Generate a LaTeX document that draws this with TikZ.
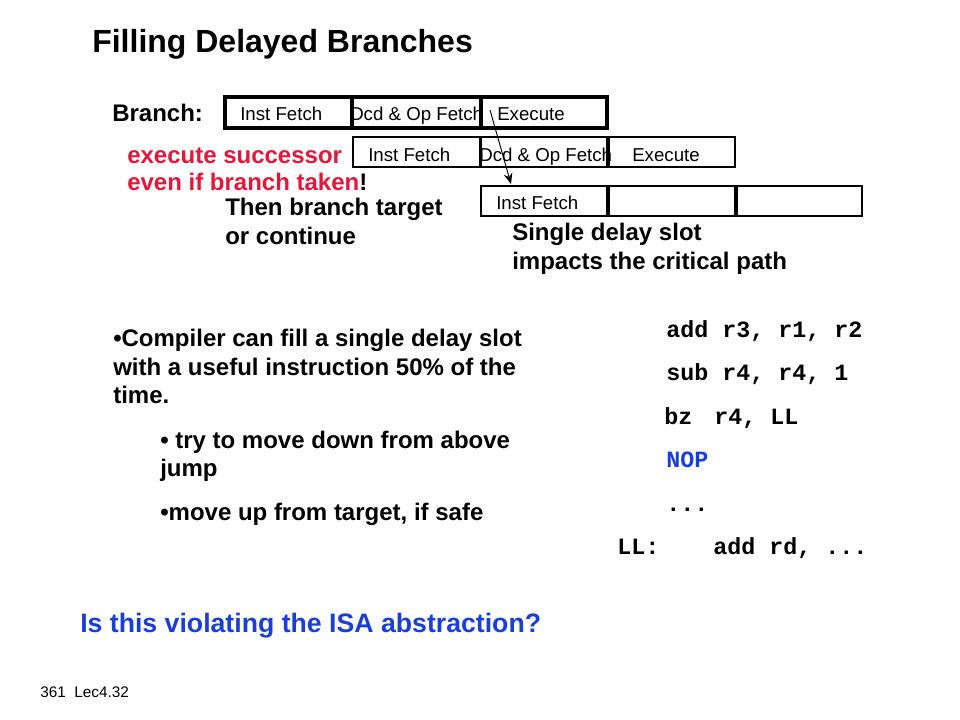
\documentclass[tikz,border=0pt]{standalone}
\usepackage{fontspec}
\usetikzlibrary{arrows.meta}
\setmainfont{Liberation Sans}
\setmonofont{Liberation Mono}
\definecolor{slred}{RGB}{228,22,58}
\definecolor{slblue}{RGB}{26,63,217}
\begin{document}
\begin{tikzpicture}[x=0.75pt,y=-0.75pt,
  txt/.style={anchor=base west,inner sep=0pt,font=\fontsize{18}{20}\selectfont\bfseries},
  boxtxt/.style={anchor=base west,inner sep=0pt,font=\fontsize{14}{16}\selectfont},
  code/.style={anchor=base west,inner sep=0pt,font=\fontsize{17.5}{20}\selectfont\ttfamily\bfseries},
  thickbox/.style={draw,line width=2.4pt},
  thinbox/.style={draw,line width=0.8pt}]
\useasboundingbox (0,0) rectangle (960,720);
% title
\node[txt,font=\fontsize{24}{28}\selectfont\bfseries] (title) at (92,53) {Filling Delayed Branches};
% branch row
\node[txt] (branch) at (112,122) {Branch:};
\node[boxtxt] (t11) at (240,121) {Inst Fetch};
\node[boxtxt] (t12) at (350,121) {Dcd \& Op Fetch};
\node[boxtxt] (t13) at (497,121) {Execute};
\draw[thickbox] (225,97) rectangle (352,128);
\draw[thickbox] (352,97) rectangle (481,128);
\draw[thickbox] (481,97) rectangle (607,128);
% second row
\node[boxtxt] (t21) at (368,162) {Inst Fetch};
\node[boxtxt] (t22) at (479,162) {Dcd \& Op Fetch};
\node[boxtxt] (t23) at (632,162) {Execute};
\draw[thinbox] (353,137) rectangle (480,167);
\draw[thinbox] (481,137) rectangle (607,167);
\draw[thinbox] (609,137) rectangle (735,167);
% third row
\node[boxtxt] (t31) at (496,210) {Inst Fetch};
\draw[thinbox] (481,186) rectangle (607,216);
\draw[thinbox] (609,186) rectangle (735,216);
\draw[thinbox] (737,186) rectangle (862,216);
% arrow
\coordinate (as) at (490,110);
\coordinate (ae) at (511,184);
\draw[line width=0.7pt,-{Stealth[length=8pt,width=6.5pt]}] (as) -- (ae);
% red text
\node[txt,text=slred] (red1) at (127,164) {execute successor};
\node[txt,text=slred] (red2) at (127,191) {even if branch taken\textcolor{black}{!}};
\node[txt] (then1) at (225,216) {Then branch target};
\node[txt] (then2) at (225,245) {or continue};
\node[txt] (sds1) at (512,241) {Single delay slot};
\node[txt] (sds2) at (512,270) {impacts the critical path};
% bullets
\node[txt] (b1) at (113,346) {•Compiler can fill a single delay slot};
\node[txt] (b2) at (113,375) {with a useful instruction 50\% of the};
\node[txt] (b3) at (113,403) {time.};
\node[txt] (b4) at (160,448) {• try to move down from above};
\node[txt] (b5) at (160,476) {jump};
\node[txt] (b6) at (160,520) {•move up from target, if safe};
% code
\node[code] (c1) at (666,337) {add r3, r1, r2};
\node[code] (c2) at (666,380) {sub r4, r4, 1};
\node[code] (c3a) at (664,424) {bz};
\node[code] (c3b) at (714,424) {r4, LL};
\node[code,text=slblue] (c4) at (666,467) {NOP};
\node[code] (c5) at (666,511) {...};
\node[code] (c6a) at (617,554) {LL:};
\node[code] (c6b) at (713,554) {add rd, ...};
% question
\node[txt,text=slblue,font=\fontsize{20}{24}\selectfont\bfseries] (q) at (80,632) {Is this violating the ISA abstraction?};
% footer
\node[boxtxt,font=\fontsize{11.5}{13}\selectfont] (foot) at (40,697) {361\ \ Lec4.32};
\end{tikzpicture}
\end{document}
